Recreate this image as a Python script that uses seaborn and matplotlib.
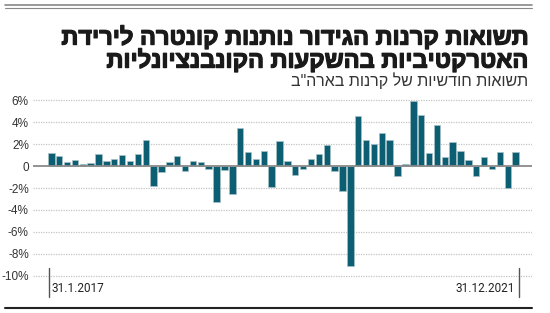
import numpy as np
import pandas as pd
import seaborn as sns
import matplotlib.pyplot as plt
import matplotlib.patheffects as pe
from matplotlib.lines import Line2D

# ---- data (monthly returns, %) ----
values = [1.2, 0.9, 0.4, 0.55, 0.2, 0.3, 1.1, 0.5, 0.67, 1.03, 0.45, 1.06,
          2.33, -1.82, -0.55, 0.4, 0.88, -0.42, 0.45, 0.33, -0.27, -3.24, -0.36, -2.58,
          3.48, 1.3, 0.6, 1.33, -1.9, 2.3, 0.45, -0.8, -0.24, 0.6, 1.06, 1.9,
          -0.48, -2.3, -9.1, 4.55, 2.4, 2.0, 3.0, 2.4, -0.94, 0.18, 5.9, 4.6,
          1.2, 3.7, 0.8, 2.2, 1.33, 0.55, -0.94, 0.8, -0.24, 1.3, -2.0, 1.3]
months = pd.date_range('2017-01-31', periods=len(values), freq='ME').strftime('%m/%Y').tolist()
ytick_vals = [6, 4, 2, 0, -2, -4, -6, -8, -10]
ytick_labels = ['6%', '4%', '2%', '0', '-2%', '-4%', '-6%', '-8%', '-10%']
start_label = '31.1.2017'
end_label = '31.12.2021'
title_lines = ['תשואות קרנות הגידור נותנות קונטרה לירידת',
               'האטרקטיביות בהשקעות הקונבנציונליות']
subtitle = 'תשואות חודשיות של קרנות בארה"ב'


def rtl(s):
    return s[::-1]


sns.set_theme(style='white')
plt.rcParams['font.family'] = ['Liberation Sans', 'DejaVu Sans']

W, H = 550, 313
fig = plt.figure(figsize=(W / 100, H / 100), dpi=100)

def fx(px):
    return px / W

def fy(py):
    return 1 - py / H

# axes geometry: 1% = 11 px, zero at y=166
y_top, y_bot = 6.2, -10.4
ax_top_px = 166 - y_top * 11
ax_bot_px = 166 - y_bot * 11
ax = fig.add_axes([fx(33), fy(ax_bot_px), fx(532) - fx(33), fy(ax_top_px) - fy(ax_bot_px)])

df = pd.DataFrame({'month': months, 'value': values})
bar_color = '#0c5f73'
sns.barplot(data=df, x='month', y='value', order=months, color=bar_color,
            width=0.82, edgecolor='#a9c1c7', linewidth=0.5, ax=ax, saturation=1)

# x range: bar1 centre at 51.3 px, bar60 at 515.6 px
step = (515.6 - 51.3) / (len(values) - 1)
ax.set_xlim((33 - 51.3) / step, (532 - 51.3) / step)
ax.set_ylim(y_bot, y_top)

for v in ytick_vals:
    if v == 0:
        continue
    ax.axhline(v, color='#c4c4c4', lw=0.9, ls=(0, (1, 1)), zorder=0)
ax.axhline(0, color='#8a8a8a', lw=1.3, zorder=3)

ax.set_yticks(ytick_vals)
ax.set_yticklabels(ytick_labels)
ax.tick_params(axis='y', length=0, pad=3, labelsize=8.5, labelcolor='#333333')
ax.set_xticks([])
ax.set_xlabel('')
ax.set_ylabel('')
for s in ax.spines.values():
    s.set_visible(False)
ax.patch.set_alpha(0)

# date labels with vertical markers
fig.add_artist(Line2D([fx(49), fx(49)], [fy(268), fy(297)], color='#555555', lw=1.0))
fig.text(fx(52), fy(289), start_label, ha='left', va='center', fontsize=8.5,
         color='#222222', family=['Roboto', 'DejaVu Sans'])
fig.add_artist(Line2D([fx(519), fx(519)], [fy(268), fy(297)], color='#555555', lw=1.0))
fig.text(fx(515), fy(289), end_label, ha='right', va='center', fontsize=8.5,
         color='#222222', family=['Roboto', 'DejaVu Sans'])

# frame lines
fig.add_artist(Line2D([fx(5), fx(532)], [fy(5), fy(5)], color='#888888', lw=1.2))
fig.add_artist(Line2D([fx(5), fx(532)], [fy(8.3), fy(8.3)], color='#888888', lw=0.8))
fig.add_artist(Line2D([fx(5), fx(532)], [fy(307.5), fy(307.5)], color='#222222', lw=1.5))

# titles (RTL reversed for LTR renderer)
thick = [pe.withStroke(linewidth=0.9, foreground='#1a1a1a')]
fig.text(fx(529), fy(37), rtl(title_lines[0]), ha='right', va='center', fontsize=17,
         fontweight='bold', color='#1a1a1a', path_effects=thick)
fig.text(fx(529), fy(60), rtl(title_lines[1]), ha='right', va='center', fontsize=17,
         fontweight='bold', color='#1a1a1a', path_effects=thick)
fig.text(fx(528), fy(81), rtl(subtitle), ha='right', va='center', fontsize=11.5,
         color='#333333')

fig.savefig('out.png', dpi=100)
